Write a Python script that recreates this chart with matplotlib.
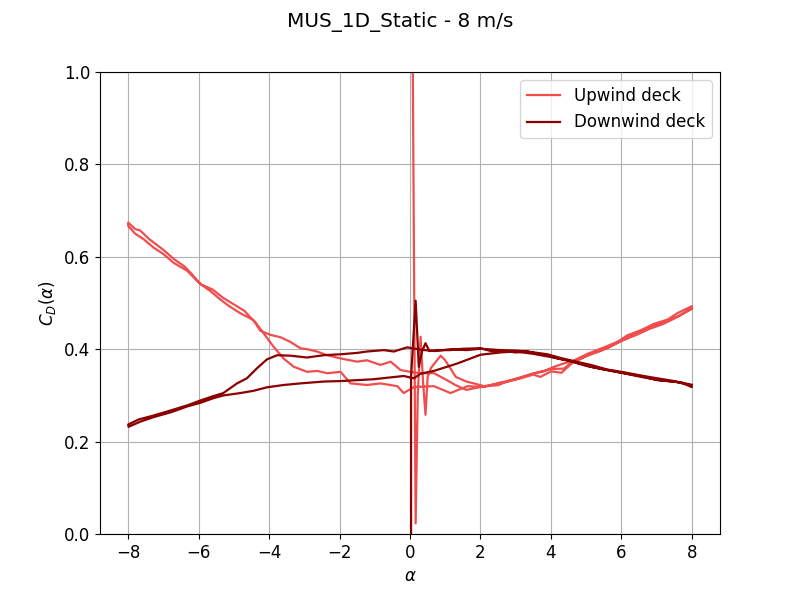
import numpy as np
import matplotlib
matplotlib.use("Agg")
import matplotlib.pyplot as plt

plt.rcParams['font.size'] = 12

# ---------------- Upwind deck ----------------
# initial run (start transient at alpha~0, then increasing to +8)
up_a1 = [0.05, 0.08, 0.16, 0.22, 0.30, 0.37, 0.44, 0.50, 0.60, 0.87, 1.00, 1.30, 1.60, 1.81,
         2.10, 2.50, 2.80, 3.05, 3.50, 3.99, 4.37, 4.66, 5.04, 5.41, 5.89, 6.17, 6.55, 6.93,
         7.31, 7.59, 8.00]
up_c1 = [1.30, 1.00, 0.023, 0.30, 0.427, 0.33, 0.258, 0.34, 0.36, 0.386, 0.376, 0.340, 0.330,
         0.326, 0.320, 0.322, 0.332, 0.337, 0.347, 0.357, 0.358, 0.376, 0.390, 0.401, 0.416,
         0.430, 0.441, 0.455, 0.464, 0.478, 0.493]
# decreasing +8 -> -8
up_a2 = [8.00, 7.60, 7.30, 6.90, 6.50, 6.10, 5.80, 5.40, 5.00, 4.60, 4.30, 4.00, 3.70, 3.50,
         3.05, 2.57, 2.10, 1.63, 1.15, 0.68, 0.11, -0.18, -0.36, -0.84, -1.22, -1.69, -1.97,
         -2.35, -2.64, -2.92, -3.30, -3.59, -3.87, -4.15, -4.44, -4.82, -5.15, -5.39, -5.67,
         -5.95, -6.33, -6.71, -7.00, -7.28, -7.56, -7.80, -8.00]
up_c2 = [0.487, 0.471, 0.462, 0.449, 0.436, 0.422, 0.411, 0.396, 0.385, 0.370, 0.349, 0.352,
         0.340, 0.345, 0.335, 0.328, 0.318, 0.320, 0.305, 0.320, 0.318, 0.305, 0.320, 0.326,
         0.3225, 0.326, 0.351, 0.348, 0.353, 0.351, 0.362, 0.380, 0.405, 0.434, 0.463, 0.478,
         0.494, 0.508, 0.526, 0.541, 0.570, 0.587, 0.606, 0.620, 0.638, 0.650, 0.667]
# increasing -8 -> +8
up_a3 = [-8.00, -7.80, -7.66, -7.40, -7.00, -6.70, -6.40, -6.20, -5.95, -5.60, -5.30, -5.00,
         -4.70, -4.40, -4.25, -3.96, -3.68, -3.40, -3.11, -2.92, -2.64, -2.35, -1.97, -1.50,
         -1.22, -0.84, -0.55, -0.27, 0.00, 0.30, 0.68, 1.00, 1.30, 1.60, 2.00, 2.40, 2.80,
         3.20, 3.52, 3.80, 4.09, 4.40, 4.80, 5.20, 5.60, 6.00, 6.40, 6.80, 7.20, 7.60, 8.00]
up_c3 = [0.674, 0.660, 0.657, 0.638, 0.615, 0.595, 0.579, 0.563, 0.541, 0.529, 0.511, 0.497,
         0.483, 0.458, 0.440, 0.431, 0.426, 0.416, 0.402, 0.400, 0.395, 0.387, 0.380, 0.373,
         0.376, 0.366, 0.373, 0.355, 0.351, 0.348, 0.348, 0.335, 0.322, 0.312, 0.318, 0.324,
         0.330, 0.340, 0.348, 0.352, 0.362, 0.370, 0.378, 0.392, 0.402, 0.418, 0.430, 0.444,
         0.455, 0.470, 0.489]

# ---------------- Downwind deck ----------------
dn_a1 = [0.03, 0.03, 0.16, 0.25, 0.34, 0.44, 0.55, 0.80, 1.15, 1.50, 2.00, 2.30, 2.57, 3.00,
         3.33, 3.70, 3.90, 4.20, 4.66, 5.13, 5.60, 6.08, 6.55, 7.02, 7.50, 7.97]
dn_c1 = [-0.05, 0.34, 0.505, 0.362, 0.395, 0.413, 0.396, 0.398, 0.398, 0.401, 0.402, 0.396,
         0.397, 0.393, 0.395, 0.389, 0.387, 0.380, 0.373, 0.362, 0.355, 0.348, 0.342, 0.333,
         0.330, 0.322]
dn_a2 = [8.00, 7.70, 7.30, 7.00, 6.50, 6.00, 5.50, 5.00, 4.50, 4.00, 3.50, 3.00, 2.57, 2.00,
         1.34, 0.68, 0.30, 0.11, -0.18, -0.55, -1.03, -1.50, -1.97, -2.45, -3.11, -3.59, -4.06,
         -4.44, -4.82, -5.29, -5.58, -5.95, -6.33, -6.62, -6.81, -7.28, -7.66, -7.99]
dn_c2 = [0.318, 0.328, 0.331, 0.334, 0.341, 0.349, 0.356, 0.364, 0.375, 0.383, 0.390, 0.395,
         0.393, 0.388, 0.369, 0.353, 0.347, 0.337, 0.342, 0.339, 0.335, 0.333, 0.331, 0.330,
         0.326, 0.3225, 0.3175, 0.310, 0.305, 0.300, 0.294, 0.284, 0.276, 0.268, 0.263, 0.253,
         0.243, 0.232]
dn_a3 = [-8.00, -7.70, -7.30, -6.90, -6.60, -6.30, -5.95, -5.60, -5.30, -4.91, -4.63, -4.34,
         -4.06, -3.77, -3.40, -2.92, -2.45, -1.97, -1.50, -1.22, -0.74, -0.46, -0.08, 0.30,
         0.70, 1.15, 1.60, 2.00, 2.57, 3.00, 3.33, 3.90, 4.28, 4.66, 5.13, 5.60, 6.08, 6.55,
         7.02, 7.50, 8.00]
dn_c3 = [0.237, 0.248, 0.256, 0.265, 0.272, 0.279, 0.289, 0.298, 0.305, 0.326, 0.337, 0.359,
         0.378, 0.387, 0.386, 0.382, 0.387, 0.389, 0.392, 0.395, 0.398, 0.395, 0.404, 0.399,
         0.396, 0.400, 0.398, 0.401, 0.398, 0.397, 0.395, 0.389, 0.381, 0.374, 0.366, 0.356,
         0.350, 0.343, 0.337, 0.331, 0.323]

alpha_up = np.concatenate([up_a1, up_a2, up_a3])
cd_up = np.concatenate([up_c1, up_c2, up_c3])
alpha_dn = np.concatenate([dn_a1, dn_a2, dn_a3])
cd_dn = np.concatenate([dn_c1, dn_c2, dn_c3])

fig, ax = plt.subplots(figsize=(8, 6), dpi=100)
ax.plot(alpha_up, cd_up, color='#f04e4e', lw=1.6, label='Upwind deck')
ax.plot(alpha_dn, cd_dn, color='#8b0000', lw=1.6, label='Downwind deck')
ax.set_ylim(0, 1)
ax.set_xlabel(r'$\alpha$')
ax.set_ylabel(r'$C_D(\alpha)$')
ax.grid(True)
ax.legend(loc='upper right')
fig.suptitle('MUS_1D_Static - 8 m/s')
fig.savefig('out.png', dpi=100)
